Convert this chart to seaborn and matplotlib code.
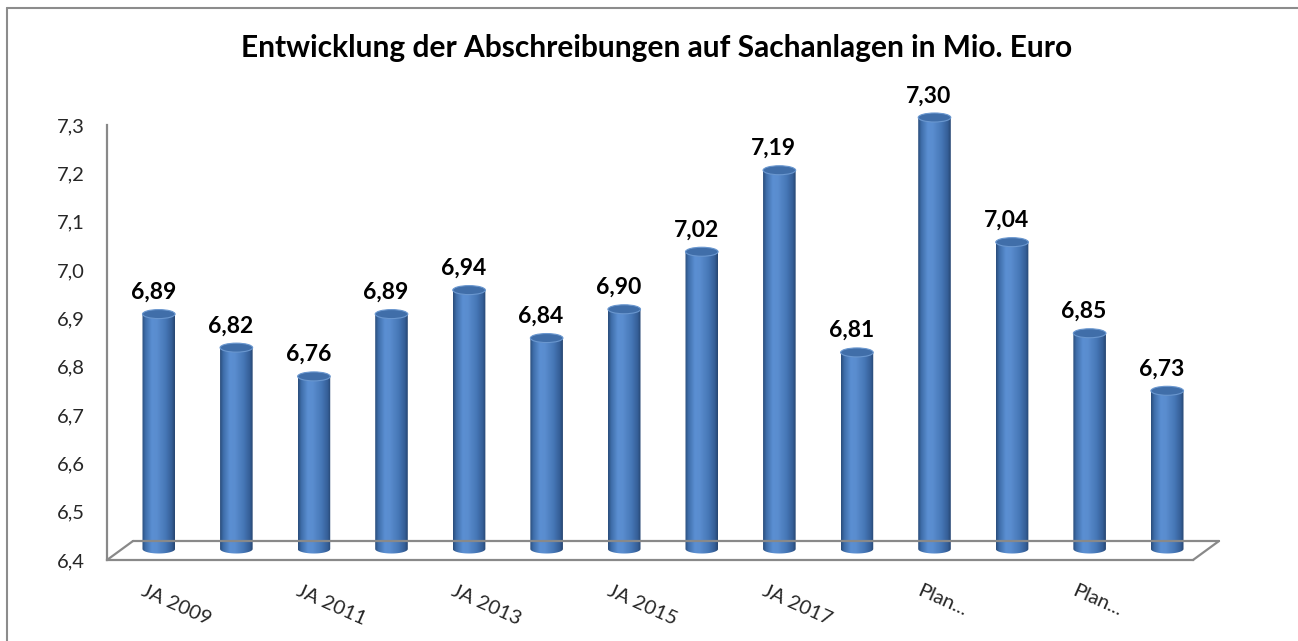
import numpy as np
import pandas as pd
import matplotlib
matplotlib.use("Agg")
import matplotlib.pyplot as plt
import seaborn as sns
from matplotlib.colors import LinearSegmentedColormap
from matplotlib.patches import Polygon, Ellipse
from matplotlib.lines import Line2D

# ---------------- data ----------------
categories = ["JA 2009", "JA 2010", "JA 2011", "JA 2012", "JA 2013", "JA 2014",
              "JA 2015", "JA 2016", "JA 2017", "JA 2018",
              "Plan 2019", "Plan 2020", "Plan 2021", "Plan 2022"]
values = [6.89, 6.82, 6.76, 6.89, 6.94, 6.84, 6.90, 7.02, 7.19, 6.81,
          7.30, 7.04, 6.85, 6.73]
tick_labels = ["JA 2009", "", "JA 2011", "", "JA 2013", "", "JA 2015", "",
               "JA 2017", "", "Plan...", "", "Plan...", ""]
y_ticks = [6.4, 6.5, 6.6, 6.7, 6.8, 6.9, 7.0, 7.1, 7.2, 7.3]
title = "Entwicklung der Abschreibungen auf Sachanlagen in Mio. Euro"

df = pd.DataFrame({"Kategorie": categories, "Wert": values})

# ---------------- style ----------------
sns.set_theme(style="white")
plt.rcParams["font.family"] = ["Lato", "DejaVu Sans"]

W, H = 1298, 641
fig = plt.figure(figsize=(W / 100, H / 100), dpi=100)
fig.patch.set_facecolor("white")

def px_axes(x0, y0, x1, y1):
    return fig.add_axes([x0 / W, 1 - y1 / H, (x1 - x0) / W, (y1 - y0) / H])

GRAY = "#898989"
YMIN, YMAX = 6.4, 7.3
n = len(categories)

# front frame axes (value axis + category axis)
ax = px_axes(107, 125, 1193, 560)
ax.set_facecolor("none")
ax.set_xlim(-0.5, n - 0.5)
ax.set_ylim(YMIN, YMAX)
for s in ["top", "right"]:
    ax.spines[s].set_visible(False)
for s in ["left", "bottom"]:
    ax.spines[s].set_color(GRAY)
    ax.spines[s].set_linewidth(1.6)
ax.set_yticks(y_ticks)
ax.set_yticklabels([f"{t:.1f}".replace(".", ",") for t in y_ticks], fontsize=14.5)
ax.tick_params(axis="y", direction="out", length=5, width=1.2, color=GRAY, pad=11)
ax.set_xticks(range(n))
ax.set_xticklabels(tick_labels, fontsize=14.5)
ax.set_xticks(np.arange(-0.5, n, 1.0), minor=True)
ax.tick_params(axis="x", which="major", length=0, pad=16)
ax.tick_params(axis="x", which="minor", direction="out", length=5, width=1.2, color=GRAY)
for lbl in ax.get_xticklabels():
    lbl.set_rotation(-24)
    lbl.set_ha("left")
    lbl.set_va("top")
    lbl.set_rotation_mode("anchor")

# back (bar) axes, offset for the 3-D depth
y_top_px, y_base_px = 117.5, 549.0
px_per_unit = (y_base_px - y_top_px) / (YMAX - YMIN)
extra_px = 12
axb = px_axes(120, y_top_px - extra_px, 1206, y_base_px + extra_px)
bottom_lim = YMIN - extra_px / px_per_unit
top_lim = YMAX + extra_px / px_per_unit

sns.barplot(data=df, x="Kategorie", y="Wert", ax=axb, width=0.42,
            color="#4F81BD", saturation=1, errorbar=None)
axb.set_xlim(-0.5, n - 0.5)
axb.set_ylim(bottom_lim, top_lim)
axb.axis("off")
axb.set_facecolor("none")

cmap = LinearSegmentedColormap.from_list("cyl", [
    (0.00, "#2A4C7A"), (0.10, "#3E6DA9"), (0.30, "#5B8FD2"),
    (0.45, "#5A8DCF"), (0.72, "#4677B6"), (0.90, "#355F98"), (1.00, "#264570")])
grad = np.linspace(0, 1, 256).reshape(1, -1)
eh = 4.5 / px_per_unit  # half-height of ellipse in data units

for p in axb.patches:
    x = p.get_x()
    w = p.get_width()
    v = p.get_height()
    cx = x + w / 2
    p.set_facecolor("none")
    p.set_edgecolor("none")
    t = np.linspace(0, np.pi, 40)
    bottom = np.column_stack([cx - (w / 2) * np.cos(t), YMIN - eh * np.sin(t)])
    verts = np.vstack([[x, v], [x, YMIN], bottom, [x + w, YMIN], [x + w, v]])
    clip = Polygon(verts, closed=True, transform=axb.transData)
    im = axb.imshow(grad, extent=[x, x + w, YMIN - eh * 1.1, v], aspect="auto",
                    cmap=cmap, zorder=2, interpolation="bilinear")
    im.set_clip_path(clip)
    cap = Ellipse((cx, v), w, 2 * eh, facecolor="#406EA9", edgecolor="#6A97CF",
                  linewidth=0.8, zorder=3)
    axb.add_patch(cap)
    axb.annotate(f"{v:.2f}".replace(".", ","), xy=(cx, v), xytext=(-4, 11),
                 textcoords="offset points", ha="center", va="baseline",
                 fontsize=16.5, fontweight="bold", color="black", zorder=4)

# floor outline (3-D base)
dx, dy = 26, 19
def fl(x0, y0, x1, y1, color=GRAY, lw=1.6):
    fig.add_artist(Line2D([x0 / W, x1 / W], [1 - y0 / H, 1 - y1 / H],
                          transform=fig.transFigure, color=color, linewidth=lw))
fl(107, 560, 107 + dx, 560 - dy)
fl(107 + dx, 560 - dy, 1193 + dx, 560 - dy)
fl(1193, 560, 1193 + dx, 560 - dy)

# outer chart border (top and left edges visible in the crop)
fl(7, 8, W + 5, 8, color="#8C8C8C", lw=1.5)
fl(7, 8, 7, H + 5, color="#8C8C8C", lw=1.5)

fig.text(657 / W, 1 - 48 / H, title, ha="center", va="center",
         fontsize=21.5, fontweight="bold", color="black")

fig.savefig("out.png", dpi=100, facecolor="white")
